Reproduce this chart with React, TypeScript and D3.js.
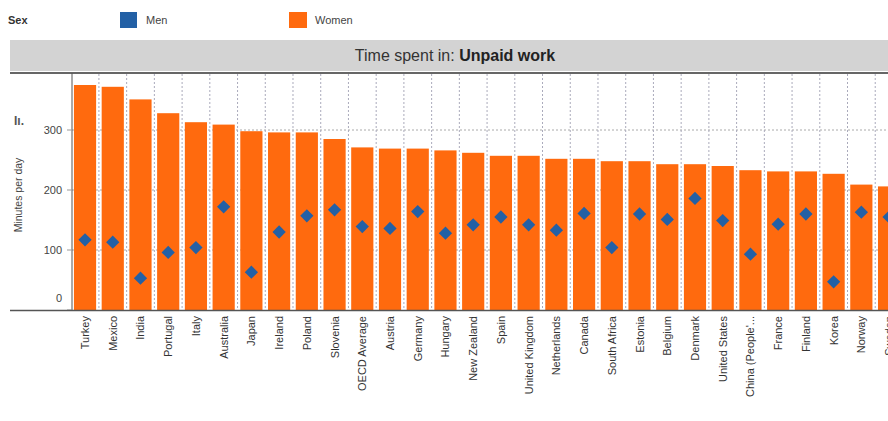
import React from "react";
import * as d3 from "d3";

const countries = [
  "Turkey", "Mexico", "India", "Portugal", "Italy", "Australia", "Japan", "Ireland",
  "Poland", "Slovenia", "OECD Average", "Austria", "Germany", "Hungary", "New Zealand",
  "Spain", "United Kingdom", "Netherlands", "Canada", "South Africa", "Estonia",
  "Belgium", "Denmark", "United States", "China (People'...", "France", "Finland",
  "Korea", "Norway", "Sweden",
];
const women = [
  375, 372, 351, 328, 313, 309, 298, 296, 296, 285, 271, 269, 269, 266, 262, 257, 257,
  252, 252, 248, 248, 243, 243, 240, 233, 231, 231, 227, 209, 206,
];
const men = [
  117, 113, 53, 96, 104, 172, 63, 130, 157, 167, 139, 136, 164, 128, 142, 155, 142, 133,
  161, 104, 160, 151, 186, 149, 93, 143, 160, 47, 163, 155,
];
const yTicks = [0, 100, 200, 300];

const W = 888;
const H = 421;
const ORANGE = "#FF6A0E";
const BLUE = "#2360A5";
const FONT = "Arial, 'Liberation Sans', sans-serif";

export default function App() {
  const left = 72;
  const step = 27.67;
  const x = d3
    .scaleBand<string>()
    .domain(countries)
    .range([left, left + step * countries.length])
    .paddingInner(0.2)
    .paddingOuter(0.07);
  const y = d3.scaleLinear().domain([0, 395]).range([310, 73]);
  const bw = x.bandwidth();
  const diamond = d3.symbol().type(d3.symbolSquare).size(88)();

  return (
    <svg
      width={W}
      height={H}
      style={{ position: "absolute", left: 0, top: 0, background: "#fff" }}
      fontFamily={FONT}
    >
      {/* Legend */}
      <text x={8} y={24} fontSize={11} fontWeight="bold" fill="#333">Sex</text>
      <rect x={120} y={12} width={17} height={16} fill={BLUE} />
      <text x={146} y={24} fontSize={11} fill="#444">Men</text>
      <rect x={289} y={12} width={18} height={16} fill={ORANGE} />
      <text x={315} y={24} fontSize={11} fill="#444">Women</text>

      {/* Title banner */}
      <rect x={10} y={40} width={W} height={31} fill="#D3D3D3" />
      <text x={455} y={61} fontSize={16} textAnchor="middle" fill="#333">
        Time spent in: <tspan fontWeight="bold" fill="#222">Unpaid work</tspan>
      </text>
      <line x1={10} x2={W} y1={73} y2={73} stroke="#666" strokeWidth={2} />

      {/* Grid */}
      {yTicks.filter((t) => t > 0).map((t) => (
        <line key={"g" + t} x1={left} x2={W} y1={y(t)} y2={y(t)} stroke="#aaa" strokeDasharray="2,2" strokeWidth={1} />
      ))}
      {countries.map((c, i) =>
        i === 0 ? null : (
          <line key={"v" + c} x1={(x(c) as number) - (step - bw) / 2} x2={(x(c) as number) - (step - bw) / 2} y1={74} y2={310} stroke="#aab" strokeDasharray="2,2" strokeWidth={1} />
        )
      )}

      {/* Bars */}
      {countries.map((c, i) => (
        <rect key={"b" + c} x={x(c)} y={y(women[i])} width={bw} height={y(0) - y(women[i])} fill={ORANGE} />
      ))}
      {/* Men diamonds */}
      {countries.map((c, i) => (
        <path key={"m" + c} d={diamond as string} transform={`translate(${(x(c) as number) + bw / 2},${y(men[i])}) rotate(45)`} fill={BLUE} />
      ))}

      {/* Y axis */}
      <line x1={left} x2={left} y1={73} y2={310} stroke="#555" strokeWidth={1} />
      {yTicks.map((t) => (
        <g key={"t" + t}>
          <line x1={left - 5} x2={left} y1={y(t)} y2={y(t)} stroke="#999" />
          <text x={62} y={t === 0 ? y(t) - 8 : y(t) + 4} fontSize={11} textAnchor="end" fill="#444">{t}</text>
        </g>
      ))}
      <text transform="translate(22,195) rotate(-90)" fontSize={10.5} textAnchor="middle" fill="#444">Minutes per day</text>
      <text x={14} y={125} fontSize={12} fontWeight="bold" fill="#555">Iı.</text>

      {/* X axis */}
      <line x1={10} x2={W} y1={310.5} y2={310.5} stroke="#555" strokeWidth={1.5} />
      {countries.map((c) => {
        const cx = (x(c) as number) + bw / 2;
        return (
          <text key={"l" + c} transform={`translate(${cx + 4},316) rotate(-90)`} fontSize={11} textAnchor="end" fill="#333">{c}</text>
        );
      })}
    </svg>
  );
}
